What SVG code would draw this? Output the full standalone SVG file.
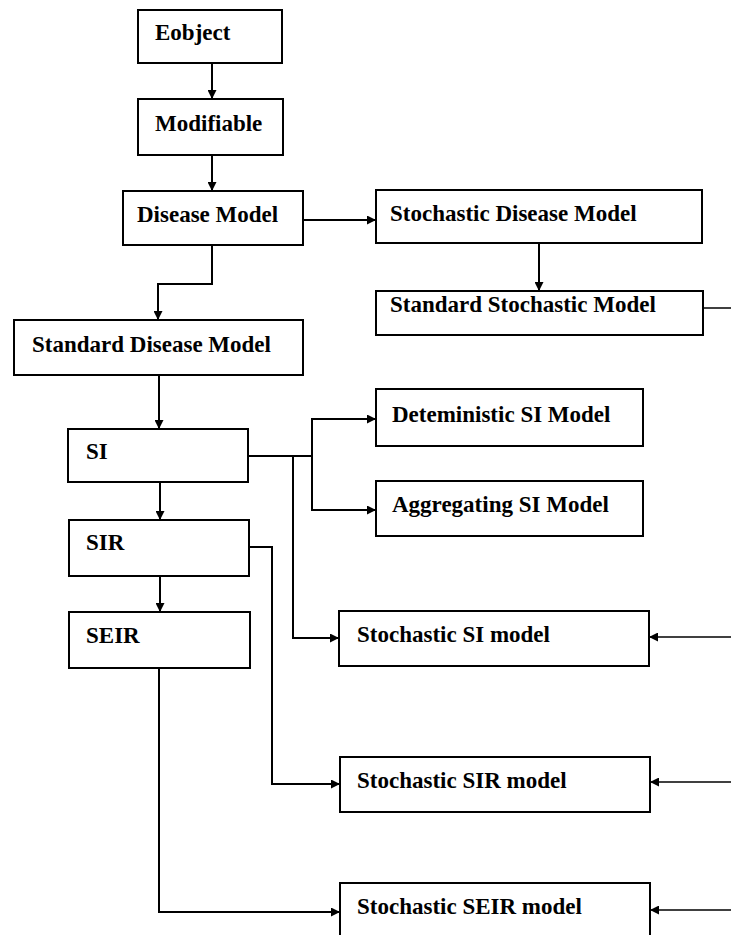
<svg xmlns="http://www.w3.org/2000/svg" width="731" height="935" viewBox="0 0 731 935">
<style>
.box{fill:#fff;stroke:#000;stroke-width:2}
.lbl{fill:#000;stroke:none}
.con{fill:none;stroke:#000;stroke-width:2}
.thin{fill:none;stroke:#000;stroke-width:1.5}
</style>
<defs>
<marker id="arr" viewBox="0 0 10 10" refX="10" refY="5" markerWidth="10" markerHeight="9" markerUnits="userSpaceOnUse" orient="auto">
<path d="M0,0 L10,5 L0,10 Z" fill="#000"/>
</marker>
</defs>
<rect width="731" height="935" fill="#fff"/>
<g id="connectors">
<path class="con" d="M212,63 V99" marker-end="url(#arr)"/>
<path class="con" d="M212,155 V191" marker-end="url(#arr)"/>
<path class="con" d="M303,220 H376" marker-end="url(#arr)"/>
<path class="con" d="M539,243 V291" marker-end="url(#arr)"/>
<path class="thin" d="M703,308 H731"/>
<path class="con" d="M212,245 V284 H158 V320" marker-end="url(#arr)"/>
<path class="con" d="M159,375 V429" marker-end="url(#arr)"/>
<path class="con" d="M160,482 V520" marker-end="url(#arr)"/>
<path class="con" d="M160,576 V612" marker-end="url(#arr)"/>
<path class="con" d="M248,456 H312"/>
<path class="con" d="M312,456 V419 H376" marker-end="url(#arr)"/>
<path class="con" d="M312,456 V510 H376" marker-end="url(#arr)"/>
<path class="con" d="M293,456 V638 H339" marker-end="url(#arr)"/>
<path class="con" d="M249,547 H272 V784 H340" marker-end="url(#arr)"/>
<path class="con" d="M159,668 V912 H340" marker-end="url(#arr)"/>
<path class="thin" d="M731,637 H649" marker-end="url(#arr)"/>
<path class="thin" d="M731,782 H650" marker-end="url(#arr)"/>
<path class="thin" d="M731,910 H650" marker-end="url(#arr)"/>
</g>
<g id="nodes" font-family="Liberation Serif" font-size="23" font-weight="bold">
<g id="eobject"><rect class="box" x="138" y="10" width="144" height="53"/><text class="lbl" x="155" y="40">Eobject</text></g>
<g id="modifiable"><rect class="box" x="138" y="99" width="145" height="56"/><text class="lbl" x="155" y="131">Modifiable</text></g>
<g id="disease-model"><rect class="box" x="123" y="191" width="180" height="54"/><text class="lbl" x="137" y="222">Disease Model</text></g>
<g id="stochastic-disease-model"><rect class="box" x="376" y="190" width="326" height="53"/><text class="lbl" x="390" y="221">Stochastic Disease Model</text></g>
<g id="standard-stochastic-model"><rect class="box" x="376" y="291" width="327" height="44"/><text class="lbl" x="390" y="312">Standard Stochastic Model</text></g>
<g id="standard-disease-model"><rect class="box" x="14" y="320" width="289" height="55"/><text class="lbl" x="32" y="352">Standard Disease Model</text></g>
<g id="si"><rect class="box" x="68" y="429" width="180" height="53"/><text class="lbl" x="86" y="459">SI</text></g>
<g id="sir"><rect class="box" x="69" y="520" width="180" height="56"/><text class="lbl" x="86" y="550">SIR</text></g>
<g id="seir"><rect class="box" x="69" y="612" width="181" height="56"/><text class="lbl" x="86" y="643">SEIR</text></g>
<g id="deterministic-si"><rect class="box" x="376" y="389" width="267" height="57"/><text class="lbl" x="392" y="422">Deteministic SI Model</text></g>
<g id="aggregating-si"><rect class="box" x="376" y="481" width="267" height="55"/><text class="lbl" x="392" y="512">Aggregating SI Model</text></g>
<g id="stochastic-si"><rect class="box" x="339" y="611" width="310" height="55"/><text class="lbl" x="357" y="642">Stochastic SI model</text></g>
<g id="stochastic-sir"><rect class="box" x="340" y="757" width="310" height="55"/><text class="lbl" x="357" y="788">Stochastic SIR model</text></g>
<g id="stochastic-seir"><rect class="box" x="340" y="883" width="310" height="60"/><text class="lbl" x="357" y="914">Stochastic SEIR model</text></g>
</g>
</svg>
